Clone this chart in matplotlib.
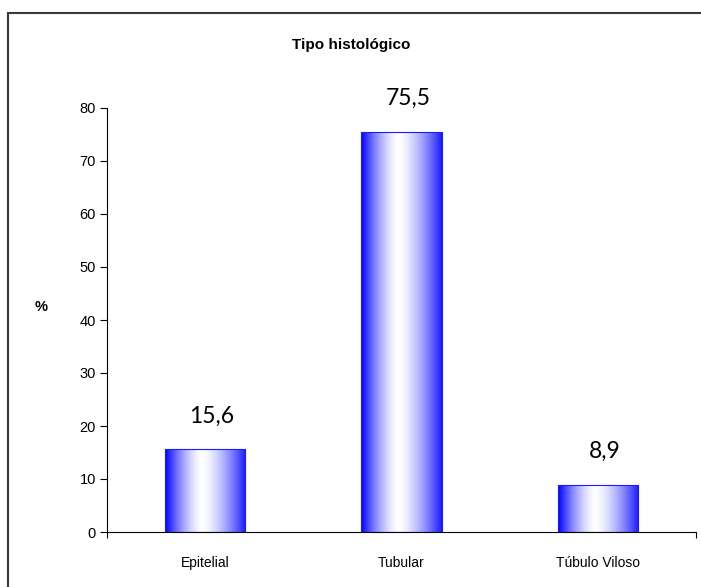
import numpy as np
import matplotlib
matplotlib.use("Agg")
import matplotlib.pyplot as plt
from matplotlib.patches import Rectangle

categories = ["Epitelial", "Tubular", "Túbulo Viloso"]
values = [15.6, 75.5, 8.9]
value_labels = ["15,6", "75,5", "8,9"]
yticks = [0, 10, 20, 30, 40, 50, 60, 70, 80]

W, H, DPI = 701, 587, 100
fig = plt.figure(figsize=(W / DPI, H / DPI), dpi=DPI)
fig.patch.set_facecolor("white")

# chart area frame (runs off the right and bottom edges)
fig.patches.append(Rectangle((8 / W, -0.05), 1.1, 1 - 13 / H + 0.05,
                             transform=fig.transFigure, fill=False,
                             edgecolor="#3a3a3a", linewidth=1.5))

ax_left, ax_right = 107 / W, 696 / W
ax_bottom, ax_top = (H - 532) / H, (H - 108) / H
ax = fig.add_axes([ax_left, ax_bottom, ax_right - ax_left, ax_top - ax_bottom])
ax.set_facecolor("none")

n = len(categories)

# horizontal blue-white-blue gradient for each bar
t = np.linspace(0, 1, 256)
center = 0.46
d = np.where(t < center, (center - t) / center, (t - center) / (1 - center))
w = np.clip(d, 0, 1) ** 1.5
w = np.where(t > center, w * 0.9, w)
blue = np.array([0.0, 0.0, 1.0])
white = np.array([1.0, 1.0, 1.0])
rgb = white[None, :] * (1 - w[:, None]) + blue[None, :] * w[:, None]
grad = rgb[None, :, :]

bar_w = 0.41
for i, v in enumerate(values):
    x0 = i + 0.5 - bar_w / 2
    im = ax.imshow(grad, extent=[x0, x0 + bar_w, 0, v], aspect="auto",
                   interpolation="bilinear", zorder=2)
    rect = Rectangle((x0, 0), bar_w, v, fill=False, edgecolor="#1a1aff",
                     linewidth=0.8, zorder=3)
    ax.add_patch(rect)
    im.set_clip_path(rect)
    ax.annotate(value_labels[i], (i + 0.5, v), xytext=(5, 24),
                textcoords="offset points", ha="center", va="center",
                fontsize=16.5, family="Lato", color="black")

ax.set_xlim(0, n)
ax.set_ylim(0, 80)

for s in ["top", "right"]:
    ax.spines[s].set_visible(False)
for s in ["left", "bottom"]:
    ax.spines[s].set_color("black")
    ax.spines[s].set_linewidth(0.8)

ax.set_yticks(yticks)
ax.set_yticklabels([str(v) for v in yticks], family="Liberation Sans", fontsize=10.5)
ax.tick_params(axis="y", direction="out", length=5, width=0.8, pad=3)

ax.set_xticks([0, n])
ax.set_xticklabels([])
ax.set_xticks(np.arange(n) + 0.5, minor=True)
ax.set_xticklabels(categories, minor=True, family="Liberation Sans", fontsize=10)
ax.tick_params(axis="x", which="major", direction="out", length=4, width=0.8)
ax.tick_params(axis="x", which="minor", length=0, pad=17)

fig.text(351 / W, 1 - 45 / H, "Tipo histológico", ha="center", va="center",
         fontsize=11, fontweight="bold", family="Liberation Sans")
fig.text(41 / W, 1 - 307 / H, "%", ha="center", va="center",
         fontsize=10.5, fontweight="bold", family="Liberation Sans")

fig.savefig("out.png", dpi=DPI, facecolor="white")
